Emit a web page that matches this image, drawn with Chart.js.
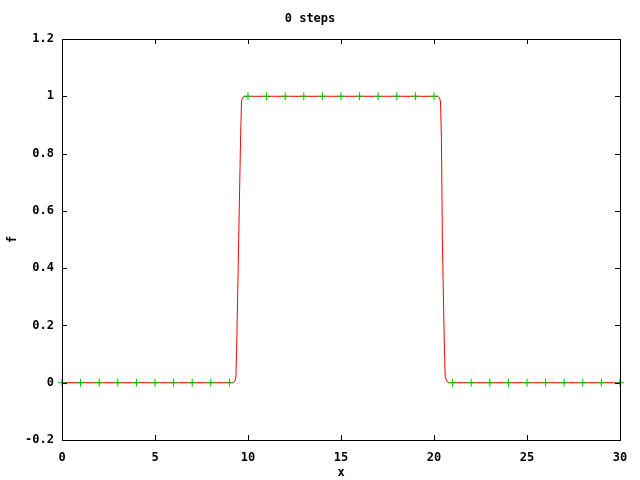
<!DOCTYPE html>
<html>
<head>
<meta charset="utf-8">
<script src="https://cdn.jsdelivr.net/npm/chart.js@4"></script>
<style>
  body { margin: 0; background: #fff; }
</style>
</head>
<body>
<canvas id="stepchart" width="640" height="480"></canvas>
<script>
// grid points (green crosses)
var pointsx = [0, 1, 2, 3, 4, 5, 6, 7, 8, 9, 10, 11, 12, 13, 14, 15, 16, 17, 18, 19, 20, 21, 22, 23, 24, 25, 26, 27, 28, 29, 30];
var pointsf = [0, 0, 0, 0, 0, 0, 0, 0, 0, 0, 1, 1, 1, 1, 1, 1, 1, 1, 1, 1, 1, 0, 0, 0, 0, 0, 0, 0, 0, 0, 0];

// smooth profile (red line)
var curvex = [0, 9.2, 9.3, 9.35, 9.4, 9.5, 9.6, 9.65, 9.7, 9.8, 20.2, 20.3, 20.35, 20.4, 20.45, 20.55, 20.6, 20.7, 20.8, 30];
var curvef = [0, 0, 0.005, 0.02, 0.15, 0.5, 0.85, 0.98, 0.995, 1, 1, 0.995, 0.98, 0.85, 0.5, 0.15, 0.02, 0.005, 0, 0];

var xticks = [0, 5, 10, 15, 20, 25, 30];
var fticks = [-0.2, 0, 0.2, 0.4, 0.6, 0.8, 1, 1.2];

var police = { family: "'DejaVu Sans Mono', monospace", size: 12, weight: 'bold' };

Chart.defaults.color = '#000';

// gnuplot style: black border + ticks pointing inward on all four sides
var cadre = {
  id: 'cadre',
  afterDraw: function(chart) {
    var ctx = chart.ctx;
    var a = chart.chartArea;
    var sx = chart.scales.x, sy = chart.scales.y;
    ctx.save();
    ctx.strokeStyle = '#000';
    ctx.lineWidth = 1;
    ctx.beginPath();
    xticks.forEach(function(v) {
      var px = Math.round(sx.getPixelForValue(v)) + 0.5;
      ctx.moveTo(px, a.bottom); ctx.lineTo(px, a.bottom - 5);
      ctx.moveTo(px, a.top); ctx.lineTo(px, a.top + 5);
    });
    fticks.forEach(function(v) {
      var py = Math.round(sy.getPixelForValue(v)) + 0.5;
      ctx.moveTo(a.left, py); ctx.lineTo(a.left + 5, py);
      ctx.moveTo(a.right, py); ctx.lineTo(a.right - 5, py);
    });
    ctx.stroke();
    ctx.strokeRect(Math.round(a.left) + 0.5, Math.round(a.top) + 0.5,
                   Math.round(a.right - a.left), Math.round(a.bottom - a.top));
    ctx.restore();
  }
};

var data = {
  datasets: [{
    label: 'points',
    data: pointsx.map((x, i) => ({ x: x, y: pointsf[i] })),
    showLine: false,
    pointStyle: 'cross',
    pointRadius: 4,
    pointBorderWidth: 1,
    pointBorderColor: '#00c000',
    pointBackgroundColor: '#00c000',
    clip: false
  }, {
    label: 'f',
    data: curvex.map((x, i) => ({ x: x, y: curvef[i] })),
    showLine: true,
    borderColor: '#ff0000',
    borderWidth: 1,
    pointRadius: 0,
    tension: 0
  }]
};

var config = {
  type: 'scatter',
  data: data,
  options: {
    responsive: false,
    animation: false,
    events: [],
    layout: { padding: { left: 0, right: 20, top: 0, bottom: 0 } },
    scales: {
      x: {
        type: 'linear',
        min: 0,
        max: 30,
        afterFit: function(s) { s.height = 40; },
        afterBuildTicks: function(s) { s.ticks = xticks.map(v => ({ value: v })); },
        ticks: { font: police, padding: 11, maxRotation: 0 },
        grid: { display: false, drawTicks: false },
        border: { display: false },
        title: { display: true, text: 'x', font: police, padding: { top: 2, bottom: 0 } }
      },
      y: {
        type: 'linear',
        min: -0.2,
        max: 1.2,
        afterFit: function(s) { s.width = 62; },
        afterBuildTicks: function(s) { s.ticks = fticks.map(v => ({ value: v })); },
        ticks: {
          font: police,
          padding: 8,
          callback: v => String(Math.round(v * 10) / 10)
        },
        grid: { display: false, drawTicks: false },
        border: { display: false },
        title: { display: true, text: 'f', font: police, padding: { top: 6, bottom: 6 } }
      }
    },
    plugins: {
      title: {
        display: true,
        text: '0 steps',
        font: police,
        padding: { top: 12, bottom: 12.6 }
      },
      legend: { display: false },
      tooltip: { enabled: false }
    }
  },
  plugins: [cadre]
};

var stepctx = document.getElementById('stepchart').getContext('2d');
var stepchart = new Chart(stepctx, config);
</script>
</body>
</html>
